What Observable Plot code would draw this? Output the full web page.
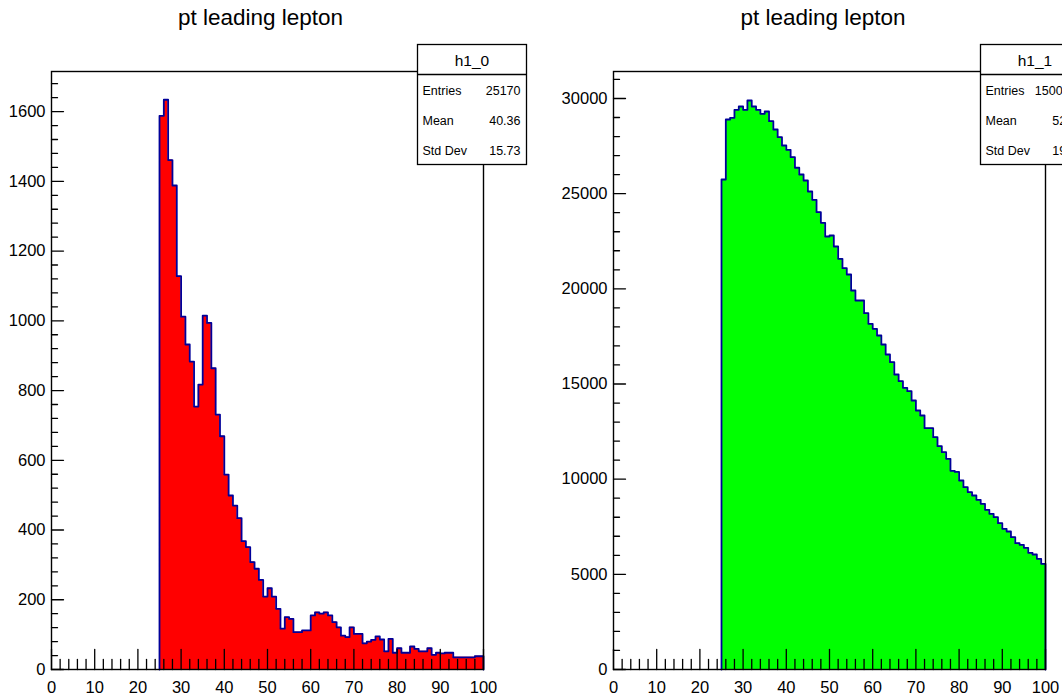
<!DOCTYPE html>
<html>
<head>
<meta charset="utf-8">
<script src="https://cdn.jsdelivr.net/npm/d3@7"></script>
<script src="https://cdn.jsdelivr.net/npm/@observablehq/plot@0.6"></script>
<style>
  html, body { margin: 0; padding: 0; background: #fff; overflow: hidden; }
  #wrap { position: relative; width: 1062px; height: 698px; overflow: hidden; background: #fff; }
  .panel { position: absolute; top: 0; }
  #overlay { position: absolute; left: 0; top: 0; pointer-events: none; }
</style>
</head>
<body>
<div id="wrap">
  <div class="panel" id="left" style="left:0px"></div>
  <div class="panel" id="right" style="left:531px"></div>
</div>
<script>
// ---- data (bins of width 1 from 25 to 100) ----
const binLowEdges = d3.range(25, 100);
const h1_0 = [1588, 1634, 1461, 1388, 1128, 1012, 932, 883, 754, 817,
              1015, 994, 864, 731, 669, 559, 499, 470, 434, 368,
              351, 308, 289, 257, 209, 233, 209, 174, 117, 150,
              145, 107, 107, 112, 112, 155, 164, 160, 164, 155,
              136, 121, 97, 93, 121, 102, 102, 75, 80, 85,
              95, 86, 52, 88, 48, 61, 48, 48, 66, 59,
              52, 52, 61, 42, 48, 46, 48, 48, 35, 35,
              35, 35, 35, 38, 38];
const h1_1 = [25745, 28897, 28985, 29406, 29580, 29406, 29895, 29580, 29406, 29195,
              29317, 28810, 28372, 27968, 27531, 27305, 26916, 26360, 26007, 25692,
              25114, 24678, 24027, 23467, 22750, 22802, 22224, 21578, 21085, 20753,
              19913, 19387, 19387, 18720, 18163, 17900, 17548, 17076, 16550, 16146,
              15500, 15149, 14800, 14623, 14133, 13608, 13345, 12678, 12678, 12205,
              11732, 11417, 11070, 10440, 10380, 9930, 9580, 9317, 9142, 8915,
              8705, 8390, 8180, 8002, 7687, 7390, 7250, 6950, 6636, 6550,
              6392, 6130, 6042, 5815, 5550];
const xTickLabels = [0, 10, 20, 30, 40, 50, 60, 70, 80, 90, 100];
const leftYTickLabels = [0, 200, 400, 600, 800, 1000, 1200, 1400, 1600];
const rightYTickLabels = [0, 5000, 10000, 15000, 20000, 25000, 30000];
const titles = ["pt leading lepton", "pt leading lepton"];
const statNames = ["h1_0", "h1_1"];
const statEntries = ["25170", "1500000"];
const statMeans = ["40.36", "52.65"];
const statStdDevs = ["15.73", "19.32"];

// ---- helpers ----
const FONT = "'Liberation Sans', Arial, Helvetica, sans-serif";
const lineColor = "#000099";
const tickShape = { draw(context, l) { context.moveTo(0, 0); context.lineTo(0, -l); } };

function histPanel(values, fillColor, yMax, yLabels, yMajorStep, {marginLeft, marginRight}) {
  const bins = binLowEdges.map((x, i) => ({x, v: values[i]}));
  const last = bins[bins.length - 1];
  const areaData = [...bins, {x: last.x + 1, v: last.v}];
  const outline = [{x: bins[0].x, v: 0}, ...areaData, {x: last.x + 1, v: 0}];
  const xMinor = d3.range(0, 101, 2).filter(d => d % 10 !== 0);
  const yMinorStep = yMajorStep / 5;
  const yMinor = d3.range(0, yMax, yMinorStep).filter(d => Math.round(d / yMinorStep) % 5 !== 0);
  return Plot.plot({
    width: 531,
    height: 698,
    marginLeft, marginRight,
    marginTop: 71, marginBottom: 29,
    style: {fontFamily: FONT, fontSize: "16.5px", color: "#000", background: "transparent"},
    x: {domain: [0, 100], label: null},
    y: {domain: [0, yMax], label: null},
    marks: [
      Plot.areaY(areaData, {x: "x", y: "v", curve: "step-after", fill: fillColor}),
      Plot.lineY(outline, {x: "x", y: "v", curve: "step-after", stroke: lineColor, strokeWidth: 1.8}),
      Plot.vector(xTickLabels, {x: d => d, frameAnchor: "bottom", length: 20, anchor: "start", shape: tickShape, stroke: "#000", strokeWidth: 1.3}),
      Plot.vector(xMinor, {x: d => d, frameAnchor: "bottom", length: 10, anchor: "start", shape: tickShape, stroke: "#000", strokeWidth: 1.3}),
      Plot.vector(yLabels, {y: d => d, frameAnchor: "left", length: 12, rotate: 90, anchor: "start", shape: tickShape, stroke: "#000", strokeWidth: 1.3}),
      Plot.vector(yMinor, {y: d => d, frameAnchor: "left", length: 6, rotate: 90, anchor: "start", shape: tickShape, stroke: "#000", strokeWidth: 1.3}),
      Plot.axisX({ticks: xTickLabels, tickSize: 0, tickPadding: 12, tickFormat: d => String(d), label: null}),
      Plot.axisY({ticks: yLabels, tickSize: 0, tickPadding: 6, tickFormat: d => String(d), label: null}),
      Plot.frame({stroke: "#000", strokeWidth: 1.4})
    ]
  });
}

document.getElementById("left").appendChild(
  histPanel(h1_0, "#ff0000", 1715, leftYTickLabels, 200, {marginLeft: 51, marginRight: 48})
);
document.getElementById("right").appendChild(
  histPanel(h1_1, "#00ff00", 31418, rightYTickLabels, 5000, {marginLeft: 82, marginRight: 17})
);

// ---- overlay: titles and stats boxes ----
const svg = d3.select("#wrap").append("svg")
  .attr("id", "overlay").attr("width", 1062).attr("height", 698)
  .style("font-family", FONT);

const titleCenters = [260.5, 823];
titles.forEach((t, i) => {
  svg.append("text").attr("x", titleCenters[i]).attr("y", 24.5)
    .attr("text-anchor", "middle").attr("font-size", 22.5).attr("fill", "#000").text(t);
});

const boxLefts = [417.5, 980.5];
const boxW = 109;
statNames.forEach((name, i) => {
  const bx = boxLefts[i];
  const g = svg.append("g");
  g.append("rect").attr("x", bx).attr("y", 44.5).attr("width", boxW).attr("height", 120)
    .attr("fill", "#fff").attr("stroke", "#000").attr("stroke-width", 1.3);
  g.append("line").attr("x1", bx).attr("x2", bx + boxW).attr("y1", 74.5).attr("y2", 74.5)
    .attr("stroke", "#000").attr("stroke-width", 1.3);
  g.append("text").attr("x", bx + boxW / 2).attr("y", 66).attr("text-anchor", "middle")
    .attr("font-size", 15.5).text(name);
  const rows = [["Entries", statEntries[i]], ["Mean", statMeans[i]], ["Std Dev", statStdDevs[i]]];
  rows.forEach(([label, val], r) => {
    const y = 94.5 + r * 30;
    g.append("text").attr("x", bx + 5).attr("y", y).attr("font-size", 12.5).text(label);
    g.append("text").attr("x", bx + boxW - 6).attr("y", y).attr("text-anchor", "end")
      .attr("font-size", 12.5).text(val);
  });
});
</script>
</body>
</html>
